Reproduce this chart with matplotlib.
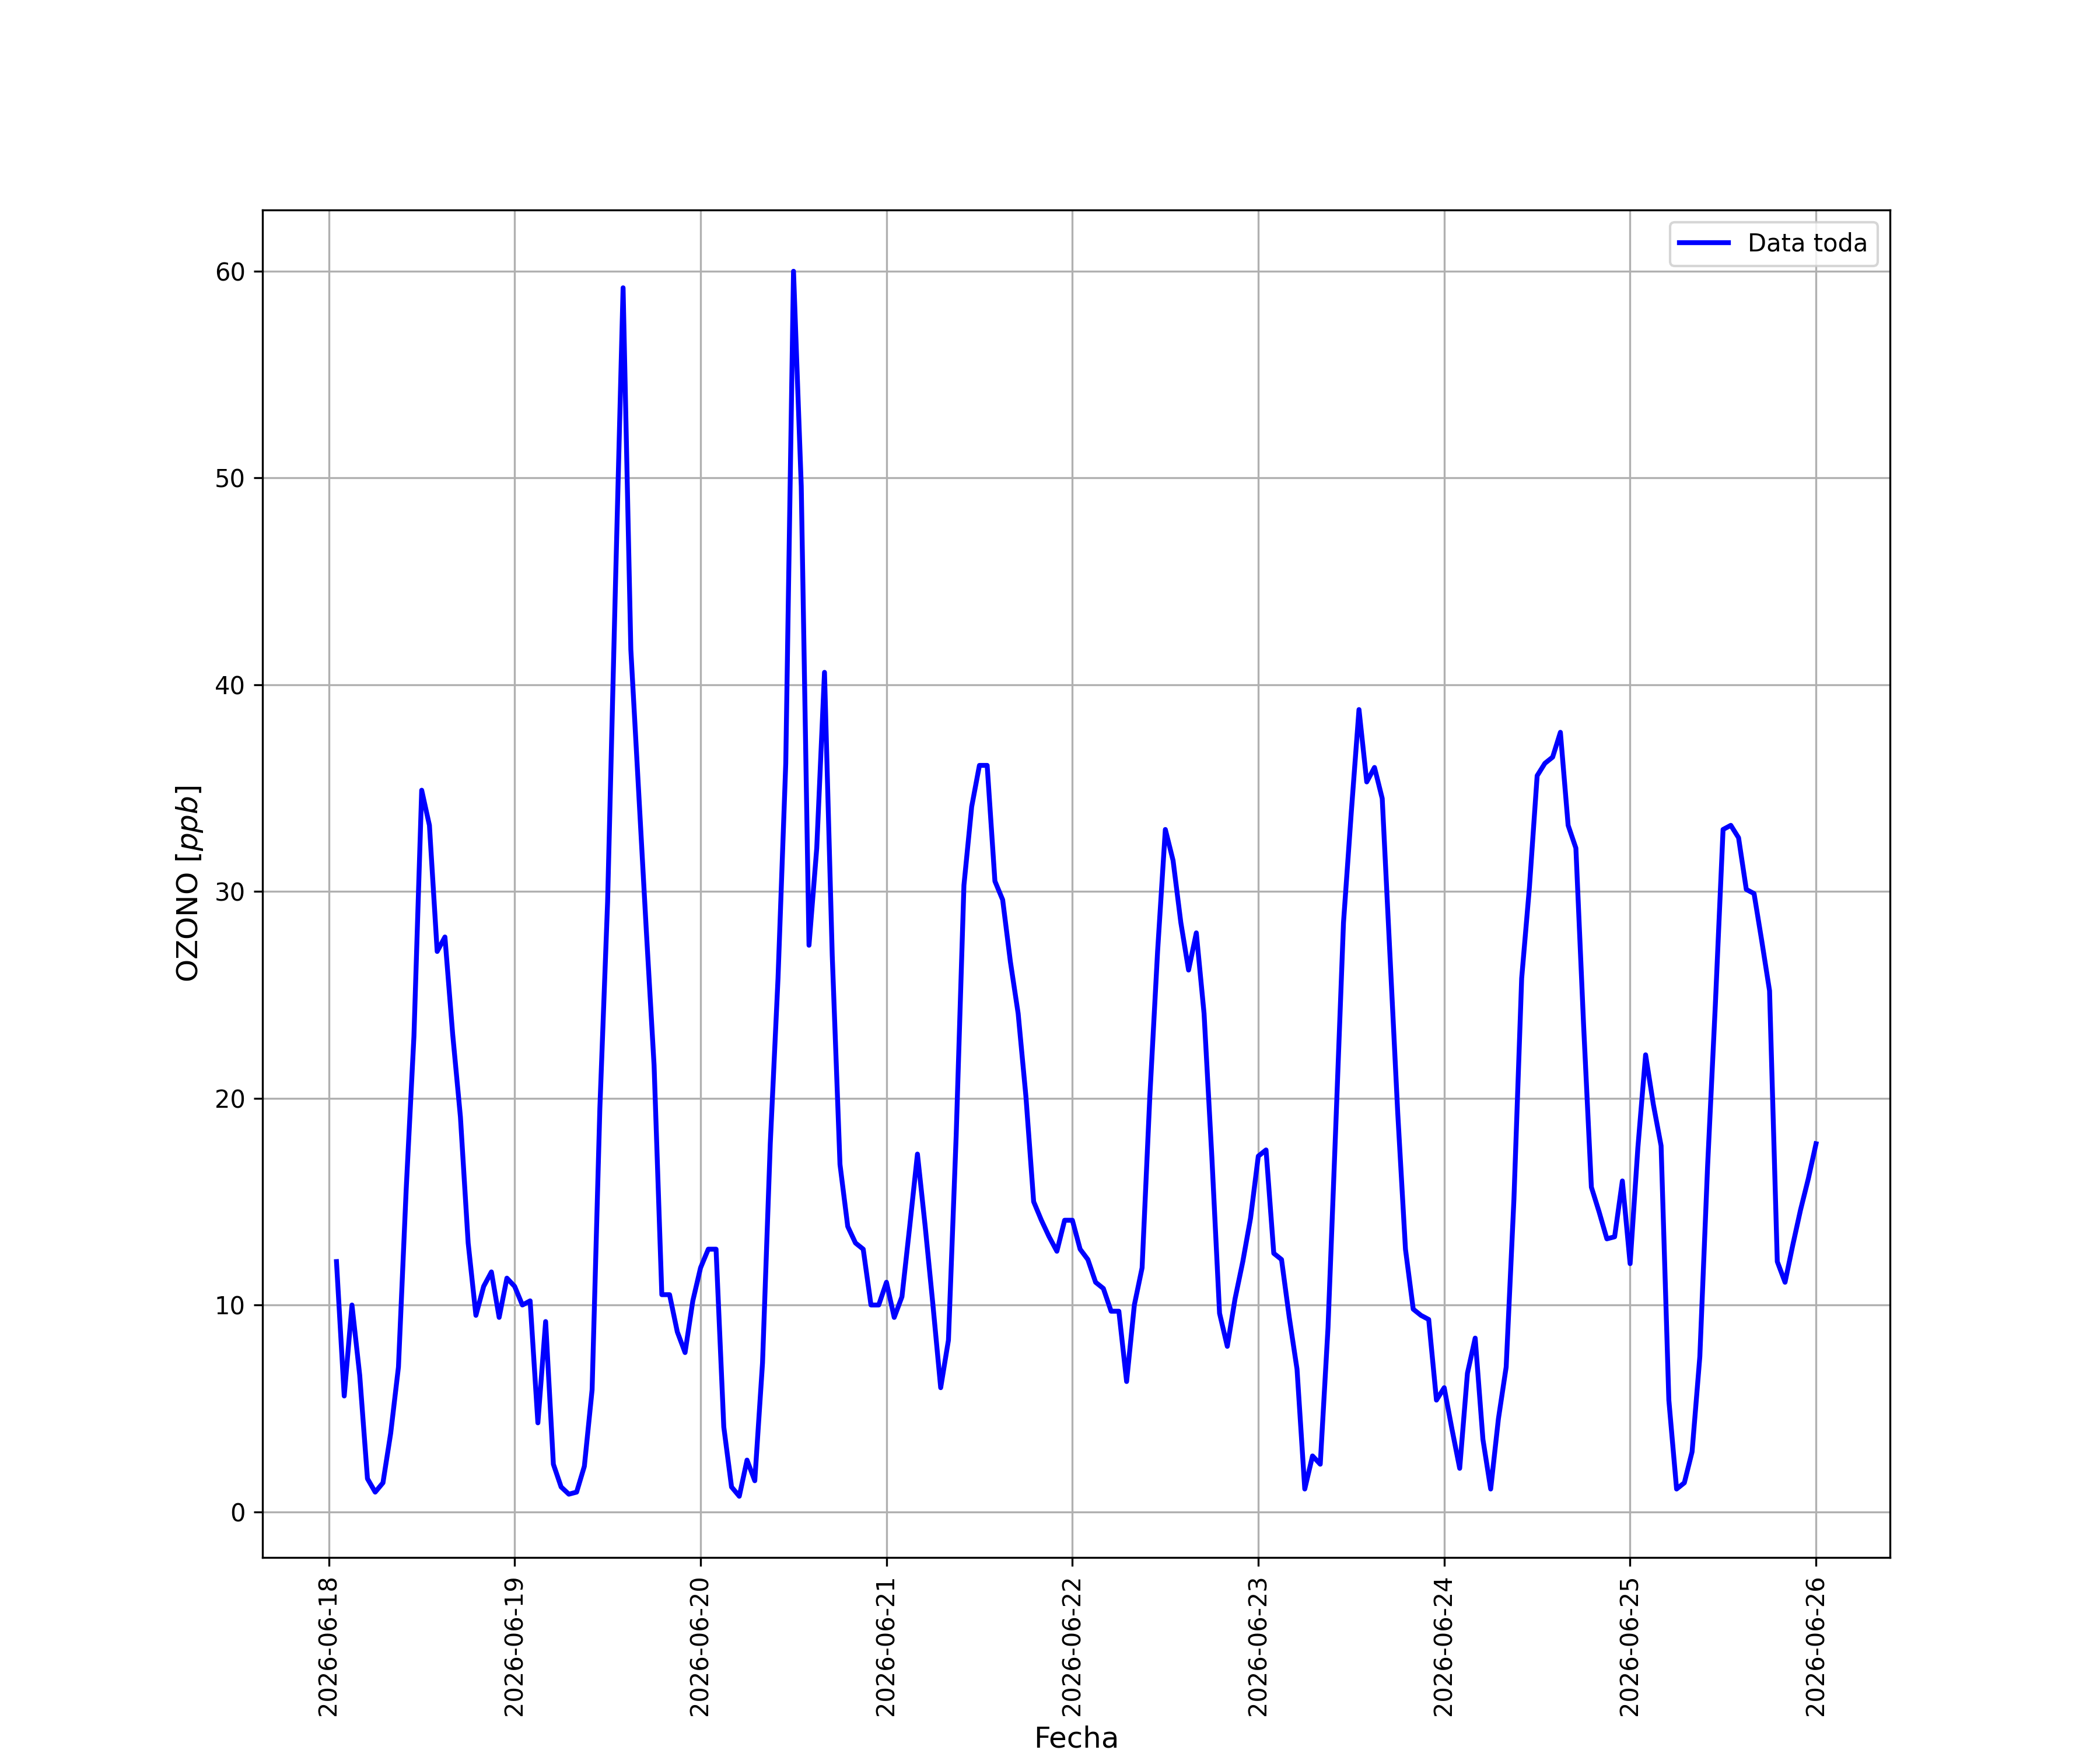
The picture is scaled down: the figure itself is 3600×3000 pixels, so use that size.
import matplotlib
matplotlib.use('Agg')
import matplotlib.pyplot as plt
import matplotlib.dates as mdates
import pandas as pd

# Ozono horario (ppb), desde 2026-06-18 01:00 hasta 2026-06-26 00:00
ozono_18 = [12.1, 5.6, 10.0, 6.6, 1.6, 0.95, 1.4, 3.8, 7.0, 15.6, 23.0, 34.9,
            33.2, 27.1, 27.8, 23.1, 19.1, 13.0, 9.5, 10.9, 11.6, 9.4, 11.3]
ozono_19 = [10.9, 10.0, 10.2, 4.3, 9.2, 2.3, 1.2, 0.85, 0.95, 2.2, 5.9, 19.5,
            29.5, 44.6, 59.2, 41.7, 34.9, 28.1, 21.6, 10.5, 10.5, 8.7, 7.7, 10.2]
ozono_20 = [11.8, 12.7, 12.7, 4.1, 1.2, 0.75, 2.5, 1.5, 7.2, 17.8, 25.8, 36.2,
            60.0, 49.6, 27.4, 32.1, 40.6, 26.9, 16.8, 13.8, 13.0, 12.7, 10.0, 10.0]
ozono_21 = [11.1, 9.4, 10.4, 13.8, 17.3, 13.8, 10.0, 6.0, 8.3, 18.2, 30.3, 34.1,
            36.1, 36.1, 30.5, 29.6, 26.6, 24.1, 20.1, 15.0, 14.1, 13.3, 12.6, 14.1]
ozono_22 = [14.1, 12.7, 12.2, 11.1, 10.8, 9.7, 9.7, 6.3, 10.0, 11.8, 20.1, 27.1,
            33.0, 31.5, 28.5, 26.2, 28.0, 24.1, 17.2, 9.6, 8.0, 10.3, 12.1, 14.2]
ozono_23 = [17.2, 17.5, 12.5, 12.2, 9.4, 6.9, 1.1, 2.7, 2.3, 8.9, 18.6, 28.5,
            33.8, 38.8, 35.3, 36.0, 34.5, 26.9, 19.3, 12.7, 9.8, 9.5, 9.3, 5.4]
ozono_24 = [6.0, 4.0, 2.1, 6.7, 8.4, 3.5, 1.1, 4.5, 7.0, 15.1, 25.8, 30.2,
            35.6, 36.2, 36.5, 37.7, 33.2, 32.1, 23.5, 15.7, 14.5, 13.2, 13.3, 16.0]
ozono_25 = [12.0, 17.6, 22.1, 19.7, 17.7, 5.4, 1.1, 1.4, 2.9, 7.5, 16.7, 24.5,
            33.0, 33.2, 32.6, 30.1, 29.9, 27.6, 25.2, 12.1, 11.1, 12.9, 14.6, 16.1]
ozono_26 = [17.8]

ozono = (ozono_18 + ozono_19 + ozono_20 + ozono_21 + ozono_22 +
         ozono_23 + ozono_24 + ozono_25 + ozono_26)
fechas = pd.date_range('2026-06-18 01:00', periods=len(ozono), freq='h')

fig, ax = plt.subplots(figsize=(12, 10))
ax.plot(fechas, ozono, color='blue', linewidth=2, label='Data toda')
ax.xaxis.set_major_locator(mdates.DayLocator())
ax.xaxis.set_major_formatter(mdates.DateFormatter('%Y-%m-%d'))
plt.setp(ax.get_xticklabels(), rotation=90)
ax.set_xlabel('Fecha', fontsize=12)
ax.set_ylabel('OZONO [$ppb$]', fontsize=12)
ax.grid(True)
ax.legend(loc='upper right', fontsize=10)
fig.savefig('out.png', dpi=300)
